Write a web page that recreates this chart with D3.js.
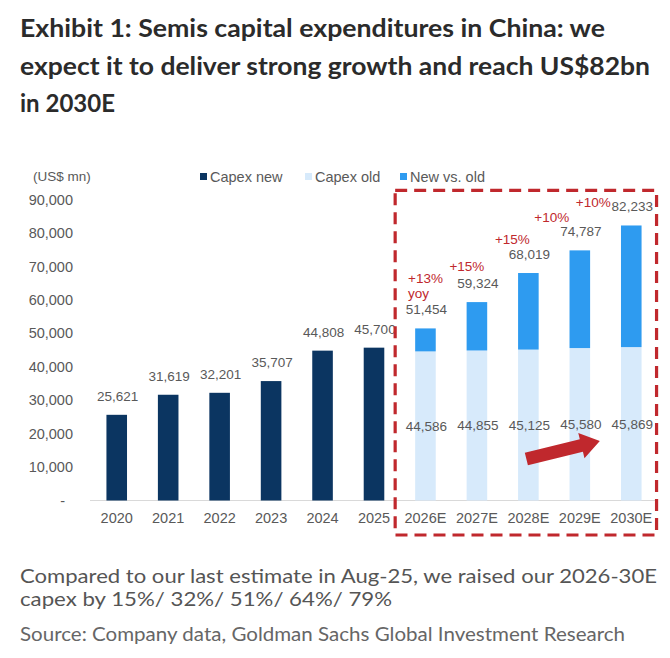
<!DOCTYPE html>
<html>
<head>
<meta charset="utf-8">
<script src="https://cdn.jsdelivr.net/npm/d3@7"></script>
<style>
  html, body { margin: 0; padding: 0; background: #ffffff; }
  svg { display: block; }
</style>
</head>
<body>
<div id="chart"></div>
<script>
// ---------- DATA ----------
const years = ["2020","2021","2022","2023","2024","2025","2026E","2027E","2028E","2029E","2030E"];
const capexNew = [25621, 31619, 32201, 35707, 44808, 45700, null, null, null, null, null];
const capexOld = [null, null, null, null, null, null, 44586, 44855, 45125, 45580, 45869];
const capexTotal = [25621, 31619, 32201, 35707, 44808, 45700, 51454, 59324, 68019, 74787, 82233];
const growthLabels = [null, null, null, null, null, null, "+13%", "+15%", "+15%", "+10%", "+10%"];
const yTicks = [0, 10000, 20000, 30000, 40000, 50000, 60000, 70000, 80000, 90000];
const legendLabels = ["Capex new", "Capex old", "New vs. old"];
const titleLines = [
  "Exhibit 1: Semis capital expenditures in China: we",
  "expect it to deliver strong growth and reach US$82bn",
  "in 2030E"
];
const noteLines = [
  "Compared to our last estimate in Aug-25, we raised our 2026-30E",
  "capex by 15%/ 32%/ 51%/ 64%/ 79%"
];
const sourceText = "Source: Company data, Goldman Sachs Global Investment Research";
const unitLabel = "(US$ mn)";

// ---------- STYLE ----------
const W = 670, H = 658;
const colNew = "#0b3561", colOld = "#d7eafb", colDiff = "#2e9bf0", colRed = "#c0282d";
const txtGrey = "#595959";
const chartFont = "'Liberation Sans', Arial, sans-serif";

const svg = d3.select("#chart").append("svg").attr("width", W).attr("height", H);

function fitText(sel, target) {
  const len = sel.node().getComputedTextLength();
  if (target && len > 0) sel.attr("textLength", target).attr("lengthAdjust", "spacingAndGlyphs");
}

// ---------- TITLE ----------
const titleBase = [37, 75, 112];
const titleWidths = [585, 630, null];
titleLines.forEach((t, i) => {
  const s = svg.append("text").attr("x", 20).attr("y", titleBase[i])
    .attr("font-family", "Lato, 'Open Sans', sans-serif").attr("font-weight", 700)
    .attr("font-size", 24).attr("fill", "#2b2b2b").text(t);
  if (titleWidths[i]) fitText(s, titleWidths[i]);
});

// ---------- SCALES ----------
const x = d3.scaleBand().domain(years).range([91, 657]).paddingInner(0.6).paddingOuter(0.3);
const y = d3.scaleLinear().domain([0, 90000]).range([500.5, 199.5]);
const cx = d => x(d) + x.bandwidth() / 2;

// ---------- AXES ----------
const yAxis = d3.axisLeft(y).tickValues(yTicks).tickSize(0).tickPadding(0)
  .tickFormat(v => v === 0 ? "-" : d3.format(",")(v));
const gy = svg.append("g").attr("transform", "translate(73,0)").call(yAxis);
gy.select(".domain").remove();
gy.selectAll("text").attr("font-family", chartFont).attr("font-size", 14.5).attr("fill", txtGrey)
  .attr("dx", v => v === 0 ? -8 : 0);

svg.append("line").attr("x1", 90).attr("x2", 655).attr("y1", y(0)).attr("y2", y(0))
  .attr("stroke", "#d9d9d9").attr("stroke-width", 1);

const xAxis = d3.axisBottom(x).tickSize(0).tickPadding(0);
const gx = svg.append("g").attr("transform", `translate(0,${y(0) + 12})`).call(xAxis);
gx.select(".domain").remove();
gx.selectAll("text").attr("font-family", chartFont).attr("font-size", 14.5).attr("fill", txtGrey)
  .attr("dy", "0.71em");

// ---------- BARS ----------
const rows = years.map((yr, i) => ({
  yr, nw: capexNew[i], old: capexOld[i], total: capexTotal[i], g: growthLabels[i], i
}));

const gBars = svg.append("g");
rows.filter(r => r.nw != null).forEach(r => {
  gBars.append("rect").attr("x", x(r.yr)).attr("width", x.bandwidth())
    .attr("y", y(r.nw)).attr("height", y(0) - y(r.nw)).attr("fill", colNew);
});
rows.filter(r => r.old != null).forEach(r => {
  gBars.append("rect").attr("x", x(r.yr)).attr("width", x.bandwidth())
    .attr("y", y(r.old)).attr("height", y(0) - y(r.old)).attr("fill", colOld);
  gBars.append("rect").attr("x", x(r.yr)).attr("width", x.bandwidth())
    .attr("y", y(r.total)).attr("height", y(r.old) - y(r.total)).attr("fill", colDiff);
});

// ---------- LABELS ----------
const fmt = d3.format(",");
const gLab = svg.append("g").attr("font-family", chartFont).attr("font-size", 13.5).attr("fill", txtGrey)
  .attr("text-anchor", "middle");
rows.forEach(r => {
  gLab.append("text").attr("x", cx(r.yr) + 1).attr("y", y(r.total) - 14).text(fmt(r.total));
  if (r.old != null) {
    gLab.append("text").attr("x", cx(r.yr) + 1).attr("y", (y(r.old) + y(0)) / 2 + 5).text(fmt(r.old));
  }
});

// growth annotations (offsets relative to total label baseline)
const growthOffsets = { "2026E": [0, -31], "2027E": [-10, -17], "2028E": [-16, -15], "2029E": [-28, -14], "2030E": [-38, -4] };
const gGrowth = svg.append("g").attr("font-family", chartFont).attr("font-size", 13.5).attr("fill", colRed);
rows.filter(r => r.g).forEach(r => {
  const [dx, dy] = growthOffsets[r.yr];
  const t = gGrowth.append("text").attr("x", cx(r.yr) + dx).attr("y", y(r.total) - 14 + dy)
    .attr("text-anchor", "middle").text(r.g);
  if (r.yr === "2026E") {
    const left = cx(r.yr) + dx - t.node().getComputedTextLength() / 2;
    gGrowth.append("text").attr("x", left).attr("y", y(r.total) - 14 + dy + 15).text("yoy");
  }
});

// ---------- ARROW ----------
(function () {
  const x0 = cx("2028E") - 2, y0 = y(12400);
  const x1 = cx("2029E") + 20, y1 = y(17800);
  const ang = Math.atan2(y1 - y0, x1 - x0);
  const L = Math.hypot(x1 - x0, y1 - y0);
  const sw = 6.5, hw = 13, hl = 19;
  const pts = [[0, -sw], [L - hl, -sw], [L - hl, -hw], [L, 0], [L - hl, hw], [L - hl, sw], [0, sw]];
  svg.append("polygon")
    .attr("points", pts.map(p => p.join(",")).join(" "))
    .attr("transform", `translate(${x0},${y0}) rotate(${ang * 180 / Math.PI})`)
    .attr("fill", colRed);
})();

// ---------- DASHED BOX ----------
const boxLeft = x("2026E") - 20, boxRight = x("2030E") + x.bandwidth() + 15;
svg.append("rect").attr("x", boxLeft).attr("y", y(92700)).attr("width", boxRight - boxLeft)
  .attr("height", 535 - y(92700)).attr("fill", "none").attr("stroke", colRed)
  .attr("stroke-width", 3.2).attr("stroke-dasharray", "12,7");

// ---------- LEGEND ----------
svg.append("text").attr("x", 33).attr("y", 181).attr("font-family", chartFont).attr("font-size", 13.5)
  .attr("fill", txtGrey).text(unitLabel);
const legCols = [colNew, colOld, colDiff];
const legX = [200, 305, 400];
legendLabels.forEach((l, i) => {
  svg.append("rect").attr("x", legX[i]).attr("y", 173).attr("width", 7).attr("height", 7).attr("fill", legCols[i]);
  svg.append("text").attr("x", legX[i] + 10).attr("y", 181.5).attr("font-family", chartFont)
    .attr("font-size", 14.5).attr("fill", txtGrey).text(l);
});

// ---------- FOOTNOTES ----------
const noteBase = [583, 606];
const noteWidths = [637, 372];
noteLines.forEach((t, i) => {
  const s = svg.append("text").attr("x", 20).attr("y", noteBase[i])
    .attr("font-family", "Lato, 'Open Sans', sans-serif").attr("font-size", 20).attr("fill", "#555555").text(t);
  fitText(s, noteWidths[i]);
});
const src = svg.append("text").attr("x", 20).attr("y", 641)
  .attr("font-family", "Lato, 'Open Sans', sans-serif").attr("font-size", 18.5).attr("fill", "#666666").text(sourceText);
fitText(src, 605);
</script>
</body>
</html>
